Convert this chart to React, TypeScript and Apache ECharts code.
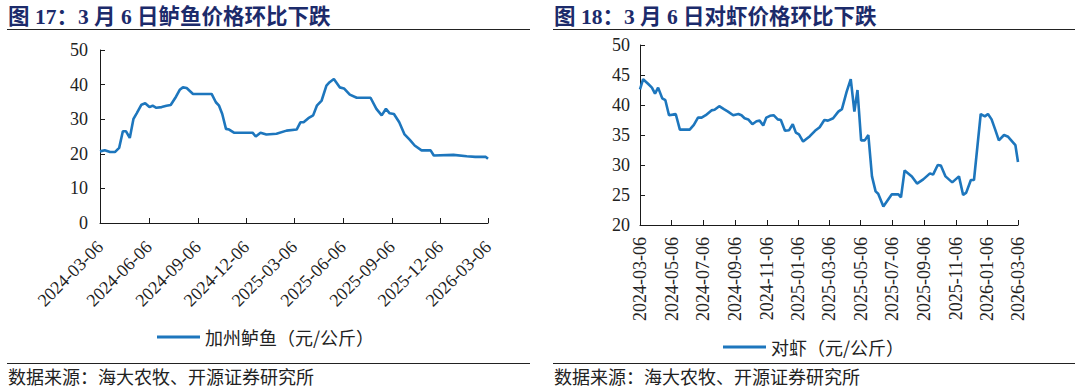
import React, { useEffect, useRef } from "react";
import * as echarts from "echarts";

// ---- Data ----
const bassName = "加州鲈鱼（元/公斤）";
const bassDates = [
  "2024-03-06", "2024-03-15", "2024-03-25", "2024-04-03", "2024-04-11", "2024-04-18", "2024-04-24",
  "2024-05-01", "2024-05-08", "2024-05-14", "2024-05-23", "2024-05-30", "2024-06-07", "2024-06-13",
  "2024-06-20", "2024-06-30", "2024-07-09", "2024-07-17", "2024-07-27", "2024-08-03", "2024-08-09",
  "2024-08-16", "2024-08-28", "2024-10-02", "2024-10-10", "2024-10-16", "2024-10-22", "2024-10-29",
  "2024-11-04", "2024-11-13", "2024-12-18", "2024-12-24", "2025-01-02", "2025-01-13", "2025-02-01",
  "2025-02-20", "2025-03-11", "2025-03-18", "2025-03-24", "2025-04-02", "2025-04-11", "2025-04-18",
  "2025-04-27", "2025-05-06", "2025-05-12", "2025-05-20", "2025-05-31", "2025-06-08", "2025-06-19",
  "2025-07-02", "2025-07-28", "2025-08-08", "2025-08-18", "2025-08-26", "2025-09-02", "2025-09-10",
  "2025-09-20", "2025-09-30", "2025-10-10", "2025-10-19", "2025-11-01", "2025-11-18", "2025-11-24",
  "2025-12-31", "2026-01-25", "2026-02-10", "2026-03-02", "2026-03-06",
];
const bassValues = [
  20.7, 21.0, 20.5, 20.5, 21.7, 26.5, 26.5,
  24.6, 30.1, 31.7, 34.2, 34.6, 33.5, 33.9,
  33.3, 33.5, 33.9, 34.1, 36.5, 38.5, 39.2,
  39.0, 37.3, 37.3, 34.9, 33.9, 31.5, 27.2,
  27.0, 26.1, 26.1, 25.0, 26.1, 25.6, 25.8,
  26.7, 27.0, 29.1, 29.1, 30.3, 31.1, 33.9,
  35.4, 39.7, 40.7, 41.6, 39.2, 38.9, 37.1,
  36.2, 36.2, 33.0, 31.1, 33.0, 31.7, 31.5,
  29.1, 25.6, 24.0, 22.4, 21.0, 21.0, 19.5,
  19.7, 19.3, 19.1, 19.1, 18.6,
];

const shrimpName = "对虾（元/公斤）";
const shrimpDates = [
  "2024-03-06", "2024-03-12", "2024-03-22", "2024-03-29", "2024-04-04", "2024-04-10", "2024-04-18",
  "2024-04-24", "2024-05-01", "2024-05-08", "2024-05-14", "2024-05-22", "2024-06-10", "2024-06-18",
  "2024-06-26", "2024-07-03", "2024-07-11", "2024-07-22", "2024-07-28", "2024-08-06", "2024-08-15",
  "2024-08-23", "2024-09-02", "2024-09-12", "2024-09-18", "2024-09-24", "2024-10-01", "2024-10-09",
  "2024-10-17", "2024-10-23", "2024-10-30", "2024-11-05", "2024-11-12", "2024-11-19", "2024-11-27",
  "2024-12-03", "2024-12-11", "2024-12-19", "2024-12-26", "2025-01-01", "2025-01-07", "2025-01-15",
  "2025-01-28", "2025-02-07", "2025-02-16", "2025-02-25", "2025-03-04", "2025-03-14", "2025-03-24",
  "2025-03-31", "2025-04-09", "2025-04-17", "2025-04-24", "2025-04-30", "2025-05-07", "2025-05-14",
  "2025-05-21", "2025-05-28", "2025-06-04", "2025-06-09", "2025-06-19", "2025-07-05", "2025-07-18",
  "2025-07-23", "2025-07-30", "2025-08-13", "2025-08-23", "2025-09-04", "2025-09-17", "2025-09-23",
  "2025-10-02", "2025-10-08", "2025-10-17", "2025-10-30", "2025-11-12", "2025-11-20", "2025-11-26",
  "2025-12-05", "2025-12-11", "2025-12-24", "2026-01-01", "2026-01-07", "2026-01-14", "2026-01-21",
  "2026-01-28", "2026-02-07", "2026-02-15", "2026-02-23", "2026-03-01", "2026-03-06",
];
const shrimpValues = [
  42.6, 44.3, 43.5, 42.9, 41.9, 42.9, 41.1,
  40.8, 38.3, 38.4, 38.5, 35.9, 35.9, 36.7,
  37.9, 37.9, 38.3, 39.1, 39.2, 39.8, 39.3,
  38.9, 38.3, 38.5, 38.3, 37.8, 37.6, 36.8,
  37.3, 37.4, 36.6, 37.9, 38.2, 38.3, 37.6,
  37.5, 35.7, 35.8, 36.8, 35.4, 35.1, 33.9,
  34.8, 35.7, 36.3, 37.5, 37.4, 37.8, 38.9,
  39.3, 42.2, 44.3, 38.9, 42.5, 34.1, 34.1,
  35.0, 28.1, 25.6, 25.2, 23.1, 25.1, 25.1,
  24.6, 29.1, 28.1, 26.9, 27.6, 28.6, 28.4,
  30.0, 29.9, 28.1, 27.1, 28.1, 25.0, 25.4,
  27.5, 27.5, 38.5, 38.1, 38.5, 37.6, 35.9,
  34.1, 35.0, 34.7, 33.9, 33.3, 30.5,
];

const bassTickDates = [
  "2024-03-06", "2024-06-06", "2024-09-06", "2024-12-06", "2025-03-06",
  "2025-06-06", "2025-09-06", "2025-12-06", "2026-03-06",
];
const shrimpTickDates = [
  "2024-03-06", "2024-05-06", "2024-07-06", "2024-09-06", "2024-11-06", "2025-01-06", "2025-03-06",
  "2025-05-06", "2025-07-06", "2025-09-06", "2025-11-06", "2026-01-06", "2026-03-06",
];

const title17 = "图 17：3 月 6 日鲈鱼价格环比下跌";
const title18 = "图 18：3 月 6 日对虾价格环比下跌";
const sourceText = "数据来源：海大农牧、开源证券研究所";

// ---- helpers ----
const ts = (s: string) => Date.parse(s + "T00:00:00Z");
const fmt = (v: number) => new Date(v).toISOString().slice(0, 10);
const pairs = (d: string[], v: number[]) => d.map((s, i) => [ts(s), v[i]]);

const LINE = "#1d76bd";
const AXIS = "#1a1a1a";
const TXT = "#222222";
const NAVY = "#1c2b6b";
const SERIF = "'Liberation Serif', 'Times New Roman', 'DejaVu Serif', serif";
const CJK = "'Noto Sans CJK SC', 'Noto Sans', sans-serif";

export default function App() {
  const ref = useRef<HTMLDivElement | null>(null);

  useEffect(() => {
    if (!ref.current) return;
    const chart = echarts.init(ref.current, undefined, { renderer: "svg" });

    const xAxisCommon = (ticks: string[], rotate: number, margin: number) => ({
      type: "value" as const,
      min: ts(ticks[0]),
      max: ts(ticks[ticks.length - 1]),
      splitLine: { show: false },
      axisLine: { show: true, onZero: false, lineStyle: { color: AXIS, width: 1 } },
      axisTick: {
        show: true,
        inside: true,
        length: 5,
        customValues: ticks.map(ts),
        lineStyle: { color: AXIS, width: 1 },
      },
      axisLabel: {
        show: true,
        customValues: ticks.map(ts),
        formatter: (v: number) => fmt(v),
        rotate,
        margin,
        fontFamily: SERIF,
        fontSize: 18,
        color: TXT,
        hideOverlap: false,
      },
    });

    const yAxisCommon = (min: number, max: number, interval: number, margin: number) => ({
      type: "value" as const,
      min,
      max,
      interval,
      splitLine: { show: false },
      axisLine: { show: true, onZero: false, lineStyle: { color: AXIS, width: 1 } },
      axisTick: { show: true, inside: true, length: 5, lineStyle: { color: AXIS, width: 1 } },
      axisLabel: { margin, fontFamily: SERIF, fontSize: 18, color: TXT },
    });

    const legendCommon = (name: string, left: number, top: number) => ({
      data: [name],
      left,
      top,
      icon: "rect",
      itemWidth: 43,
      itemHeight: 3,
      itemGap: 6,
      padding: 0,
      textStyle: { fontFamily: CJK, fontSize: 18, color: TXT },
    });

    const hline = (x1: number, x2: number, y: number) => ({
      type: "line",
      shape: { x1, y1: y, x2, y2: y },
      style: { stroke: "#222", lineWidth: 1 },
      silent: true,
    });

    const titleText = (text: string, x: number) => ({
      type: "text",
      x,
      y: 17,
      style: {
        text,
        fontFamily: "'Liberation Serif', 'Noto Sans CJK SC', serif",
        fontWeight: "bold",
        fontSize: 21.5,
        fill: NAVY,
        verticalAlign: "middle",
      },
      silent: true,
    });

    const srcText = (x: number) => ({
      type: "text",
      x,
      y: 376,
      style: {
        text: sourceText,
        fontFamily: CJK,
        fontSize: 18,
        fill: "#222",
        verticalAlign: "middle",
      },
      silent: true,
    });

    chart.setOption({
      animation: false,
      backgroundColor: "#ffffff",
      grid: [
        { left: 100, top: 50, width: 388, height: 173, containLabel: false },
        { left: 640, top: 45, width: 378, height: 180, containLabel: false },
      ],
      xAxis: [
        { ...xAxisCommon(bassTickDates, 45, 21), gridIndex: 0 },
        { ...xAxisCommon(shrimpTickDates, 90, 12), gridIndex: 1 },
      ],
      yAxis: [
        { ...yAxisCommon(0, 50, 10, 12), gridIndex: 0 },
        { ...yAxisCommon(20, 50, 5, 10), gridIndex: 1 },
      ],
      legend: [legendCommon(bassName, 157, 328), legendCommon(shrimpName, 723, 338)],
      series: [
        {
          name: bassName,
          type: "line",
          xAxisIndex: 0,
          yAxisIndex: 0,
          data: pairs(bassDates, bassValues),
          showSymbol: false,
          symbol: "none",
          color: LINE,
          lineStyle: { color: LINE, width: 2.6 },
        },
        {
          name: shrimpName,
          type: "line",
          xAxisIndex: 1,
          yAxisIndex: 1,
          data: pairs(shrimpDates, shrimpValues),
          showSymbol: false,
          symbol: "none",
          color: LINE,
          lineStyle: { color: LINE, width: 2.6 },
        },
      ],
      graphic: [
        titleText(title17, 8),
        titleText(title18, 554),
        hline(7, 530, 29.5),
        hline(553, 1075, 29.5),
        hline(7, 530, 363.5),
        hline(553, 1075, 363.5),
        srcText(8),
        srcText(554),
      ],
    });

    return () => chart.dispose();
  }, []);

  return (
    <div
      ref={ref}
      style={{ position: "fixed", left: 0, top: 0, width: 1080, height: 388, background: "#fff" }}
    />
  );
}
